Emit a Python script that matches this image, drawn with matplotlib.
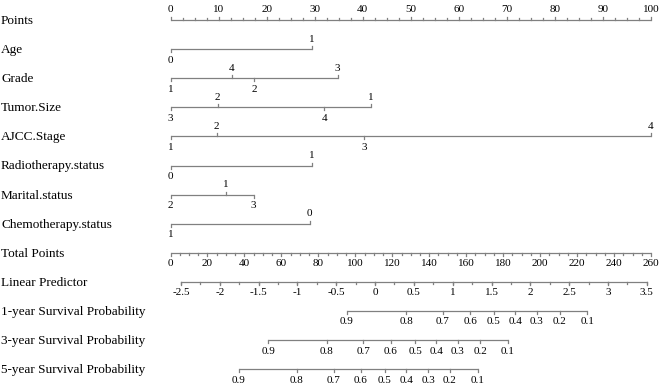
import matplotlib.pyplot as plt
import numpy as np

plt.rcParams["font.family"] = ["Liberation Serif", "DejaVu Serif"]

# Points given to each level of each predictor (0-100 scale)
age_levels = ["0", "1"]
age_points = [0, 29.4]
grade_levels = ["1", "4", "2", "3"]
grade_points = [0, 12.8, 17.4, 34.8]
tumor_levels = ["3", "2", "4", "1"]
tumor_points = [0, 9.8, 32.0, 41.7]
ajcc_levels = ["1", "2", "3", "4"]
ajcc_points = [0, 9.6, 40.3, 100]
radio_levels = ["0", "1"]
radio_points = [0, 29.4]
marital_levels = ["2", "1", "3"]
marital_points = [0, 11.6, 17.3]
chemo_levels = ["1", "0"]
chemo_points = [0, 29.0]

# Linear predictor: values at both ends and where they sit on total points
lp_ticks = [-2.5, -2, -1.5, -1, -0.5, 0, 0.5, 1, 1.5, 2, 2.5, 3, 3.5]
lp_end_values = [-2.5, 3.5]
lp_end_total = [5.7, 257.7]

# Survival probabilities and where they sit on total points
surv_probs = [0.9, 0.8, 0.7, 0.6, 0.5, 0.4, 0.3, 0.2, 0.1]
surv_1y_total = [95.4, 127.7, 147.2, 162.1, 174.9, 186.6, 198.3, 210.6, 225.5]
surv_3y_total = [52.9, 84.5, 104.2, 119.2, 132.4, 143.9, 155.3, 167.7, 182.6]
surv_5y_total = [36.9, 68.2, 88.2, 103.0, 116.0, 127.7, 139.4, 151.1, 166.4]

W, H = 661, 387
X0, X1 = 170.5, 651.0  # pixel x of 0 and 100 points
SCALE = (X1 - X0) / 100.0
TOTAL_MAX = 260
LINE_COLOR = "#808080"
ROW_FS = 9.5
TICK_FS = 8


def row_y(i):
    return 20 + 29.1 * i


def tp_to_points(tp):
    return np.asarray(tp, dtype=float) * 100.0 / TOTAL_MAX


fig = plt.figure(figsize=(W / 100, H / 100), dpi=100)
ax = fig.add_axes([0, 0, 1, 1])
ax.set_xlim(-X0 / SCALE, (W - X0) / SCALE)
ax.set_ylim(H, 0)
ax.axis("off")

label_x = -X0 / SCALE + 1 / SCALE


def row_label(i, text):
    ax.text(label_x, row_y(i) + 1, text, fontsize=ROW_FS, ha="left", va="center")


def hline(y, x_start, x_end):
    ax.plot([x_start, x_end], [y, y], color=LINE_COLOR, lw=0.9, solid_capstyle="butt")


def tick(x, y, direction, length):
    ax.plot([x, x], [y, y + direction * length], color=LINE_COLOR, lw=0.9)


# Points axis (labels above, ticks upward)
row_label(0, "Points")
y = row_y(0)
hline(y, 0, 100)
for v in np.arange(0, 100.1, 2.5):
    major = v % 10 == 0
    tick(v, y, -1, 3 if major else 2)
    if major:
        ax.text(v, y - 10, f"{int(v)}", fontsize=TICK_FS, ha="center", va="center")

# Predictor rows: labels alternate below/above along the line
variables = [
    ("Age", age_levels, age_points),
    ("Grade", grade_levels, grade_points),
    ("Tumor.Size", tumor_levels, tumor_points),
    ("AJCC.Stage", ajcc_levels, ajcc_points),
    ("Radiotherapy.status", radio_levels, radio_points),
    ("Marital.status", marital_levels, marital_points),
    ("Chemotherapy.status", chemo_levels, chemo_points),
]
for i, (name, levels, pts) in enumerate(variables, start=1):
    row_label(i, name)
    y = row_y(i)
    hline(y, min(pts), max(pts))
    order = np.argsort(pts)
    for k, idx in enumerate(order):
        below = k % 2 == 0
        d = 1 if below else -1
        tick(pts[idx], y, d, 3)
        ax.text(pts[idx], y + (11 if below else -10), levels[idx],
                fontsize=TICK_FS, ha="center", va="center")

# Total points axis (labels below, ticks downward)
row_label(8, "Total Points")
y = row_y(8)
hline(y, 0, 100)
for v in np.arange(0, TOTAL_MAX + 0.1, 5):
    major = v % 20 == 0
    tick(tp_to_points(v), y, 1, 3 if major else 2)
    if major:
        ax.text(tp_to_points(v), y + 11, f"{int(v)}", fontsize=TICK_FS,
                ha="center", va="center")

# Linear predictor axis
row_label(9, "Linear Predictor")
y = row_y(9)
lp_minor = np.arange(lp_ticks[0], lp_ticks[-1] + 0.01, 0.25)


def lp_pos(v):
    return tp_to_points(np.interp(v, lp_end_values, lp_end_total))


hline(y, lp_pos(lp_ticks[0]), lp_pos(lp_ticks[-1]))
for v in lp_minor:
    tick(lp_pos(v), y, 1, 2)
for v in lp_ticks:
    tick(lp_pos(v), y, 1, 3)
    ax.text(lp_pos(v), y + 11, f"{v:g}", fontsize=TICK_FS, ha="center", va="center")

# Survival probability axes
surv_rows = [
    ("1-year Survival Probability", surv_1y_total),
    ("3-year Survival Probability", surv_3y_total),
    ("5-year Survival Probability", surv_5y_total),
]
for i, (name, tps) in enumerate(surv_rows, start=10):
    row_label(i, name)
    y = row_y(i)
    pos = tp_to_points(tps)
    hline(y, pos.min(), pos.max())
    for p, x in zip(surv_probs, pos):
        tick(x, y, 1, 3)
        ax.text(x, y + 11, f"{p:g}", fontsize=TICK_FS, ha="center", va="center")

fig.savefig("out.png", dpi=100)
